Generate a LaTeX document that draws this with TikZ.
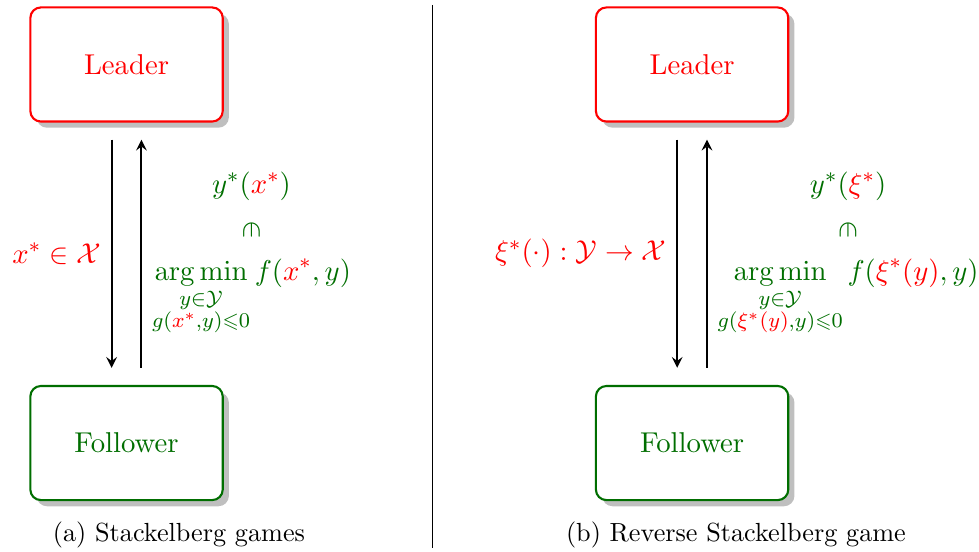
\documentclass[11pt,tikz,border=0pt]{standalone}
\usepackage{amsmath,amssymb}
\usetikzlibrary{shadows}
\definecolor{follgreen}{RGB}{0,110,0}
\tikzset{
  player/.style = {draw=#1, text=#1, thick, rounded corners, fill=white, drop shadow,
                   minimum width=2.58cm, minimum height=1.53cm},
}
\newcommand{\inrot}{\rotatebox[origin=c]{-90}{$\in$}}

\begin{document}
\begin{tikzpicture}[arrow/.style = {thick,-stealth}]
  \useasboundingbox (0,0) rectangle (13.13,-7.40);

  % (a) Stackelberg games
  \node[player=red] (leadA) at (1.697,-0.865) {Leader};
  \node[player=follgreen] (follA) at (1.697,-5.942) {Follower};
  \draw[arrow] ([xshift=-0.2cm,yshift=-0.23cm]leadA.south)
    -- node[left, red] {$x^*\in\mathcal{X}$}
    ([xshift=-0.2cm,yshift=0.23cm]follA.north);
  \draw[arrow] ([xshift=0.2cm,yshift=0.23cm]follA.north)
    -- node[right, follgreen, align=center] {$y^*(\textcolor{red}{x^*})$\\[3pt] \inrot\\[3pt]
       $\displaystyle\mathop{\arg\min}\limits_{\substack{y\in\mathcal{Y}\\ g(\textcolor{red}{x^*},y)\leqslant 0}} f(\textcolor{red}{x^*},y)$}
    ([xshift=0.2cm,yshift=-0.23cm]leadA.south);
  \node[anchor=base, font=\small] (capA) at (2.40,-7.257) {(a) Stackelberg games};

  % separator
  \draw (5.795,-0.067) -- (5.795,-7.35);

  % (b) Reverse Stackelberg game
  \node[player=red] (leadB) at (9.282,-0.865) {Leader};
  \node[player=follgreen] (follB) at (9.282,-5.942) {Follower};
  \draw[arrow] ([xshift=-0.2cm,yshift=-0.23cm]leadB.south)
    -- node[left, red] {$\xi^*(\cdot):\mathcal{Y}\to\mathcal{X}$}
    ([xshift=-0.2cm,yshift=0.23cm]follB.north);
  \draw[arrow] ([xshift=0.2cm,yshift=0.23cm]follB.north)
    -- node[right, follgreen, align=center] {$y^*(\textcolor{red}{\xi^*})$\\[3pt] \inrot\\[3pt]
       $\displaystyle\mathop{\arg\min}\limits_{\substack{y\in\mathcal{Y}\\ g(\textcolor{red}{\xi^*(y)},y)\leqslant 0}} f(\textcolor{red}{\xi^*(y)},y)$}
    ([xshift=0.2cm,yshift=-0.23cm]leadB.south);
  \node[anchor=base, font=\small] (capB) at (9.87,-7.257) {(b) Reverse Stackelberg game};
\end{tikzpicture}
\end{document}
